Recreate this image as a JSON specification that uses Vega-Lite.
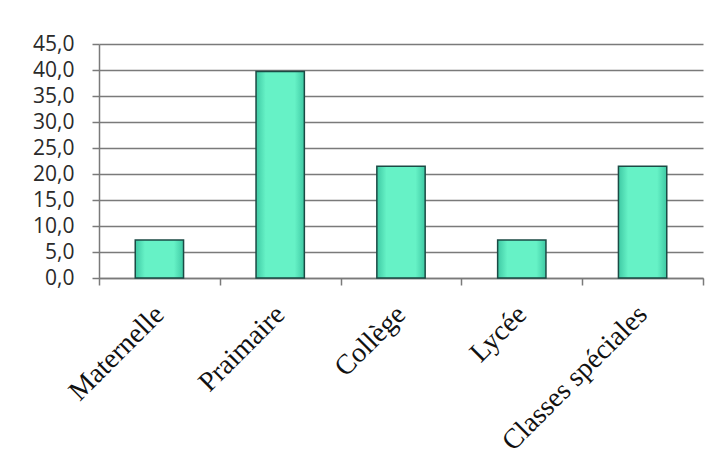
{
  "$schema": "https://vega.github.io/schema/vega-lite/v6.json",
  "autosize": "none",
  "width": 604,
  "height": 234,
  "padding": {"left": 99, "top": 44, "right": 19, "bottom": 194},
  "background": "#ffffff",
  "config": {"view": {"stroke": null}},
  "data": {"values": [
    {"niveau": "Maternelle", "valeur": 7.3},
    {"niveau": "Praimaire", "valeur": 39.7},
    {"niveau": "Collège", "valeur": 21.5},
    {"niveau": "Lycée", "valeur": 7.3},
    {"niveau": "Classes spéciales", "valeur": 21.5}
  ]},
  "mark": {
    "type": "bar",
    "width": {"band": 0.4},
    "stroke": "#1b4a44",
    "strokeWidth": 1.5,
    "color": {
      "gradient": "linear",
      "x1": 0, "y1": 0, "x2": 1, "y2": 0,
      "stops": [
        {"offset": 0, "color": "#3fc9a4"},
        {"offset": 0.2, "color": "#66f2c6"},
        {"offset": 0.8, "color": "#66f2c6"},
        {"offset": 1, "color": "#3fc9a4"}
      ]
    }
  },
  "encoding": {
    "x": {
      "field": "niveau",
      "type": "nominal",
      "sort": null,
      "scale": {"paddingInner": 0, "paddingOuter": 0},
      "axis": {
        "title": null,
        "tickBand": "extent",
        "domainColor": "#7a7a7a",
        "domainWidth": 1.5,
        "tickColor": "#7a7a7a",
        "tickWidth": 1.5,
        "tickSize": 7,
        "labelAngle": -45,
        "labelAlign": "right",
        "labelBaseline": "middle",
        "labelPadding": 25,
        "labelLimit": 0,
        "labelFont": "Liberation Serif",
        "labelFontSize": 28,
        "labelColor": "#111111",
        "labelOverlap": false,
        "grid": false
      }
    },
    "y": {
      "field": "valeur",
      "type": "quantitative",
      "scale": {"domain": [0, 45], "nice": false},
      "axis": {
        "title": null,
        "values": [0, 5, 10, 15, 20, 25, 30, 35, 40, 45],
        "labelExpr": "replace(format(datum.value, '.1f'), '.', ',')",
        "labelFont": "Open Sans",
        "labelFontSize": 21,
        "labelColor": "#2a2a2a",
        "labelPadding": 18,
        "tickSize": 7,
        "tickColor": "#7a7a7a",
        "tickWidth": 1.5,
        "domainColor": "#7a7a7a",
        "domainWidth": 1.5,
        "grid": true,
        "gridColor": "#7a7a7a",
        "gridWidth": 1.5,
        "gridOpacity": 1
      }
    }
  }
}
